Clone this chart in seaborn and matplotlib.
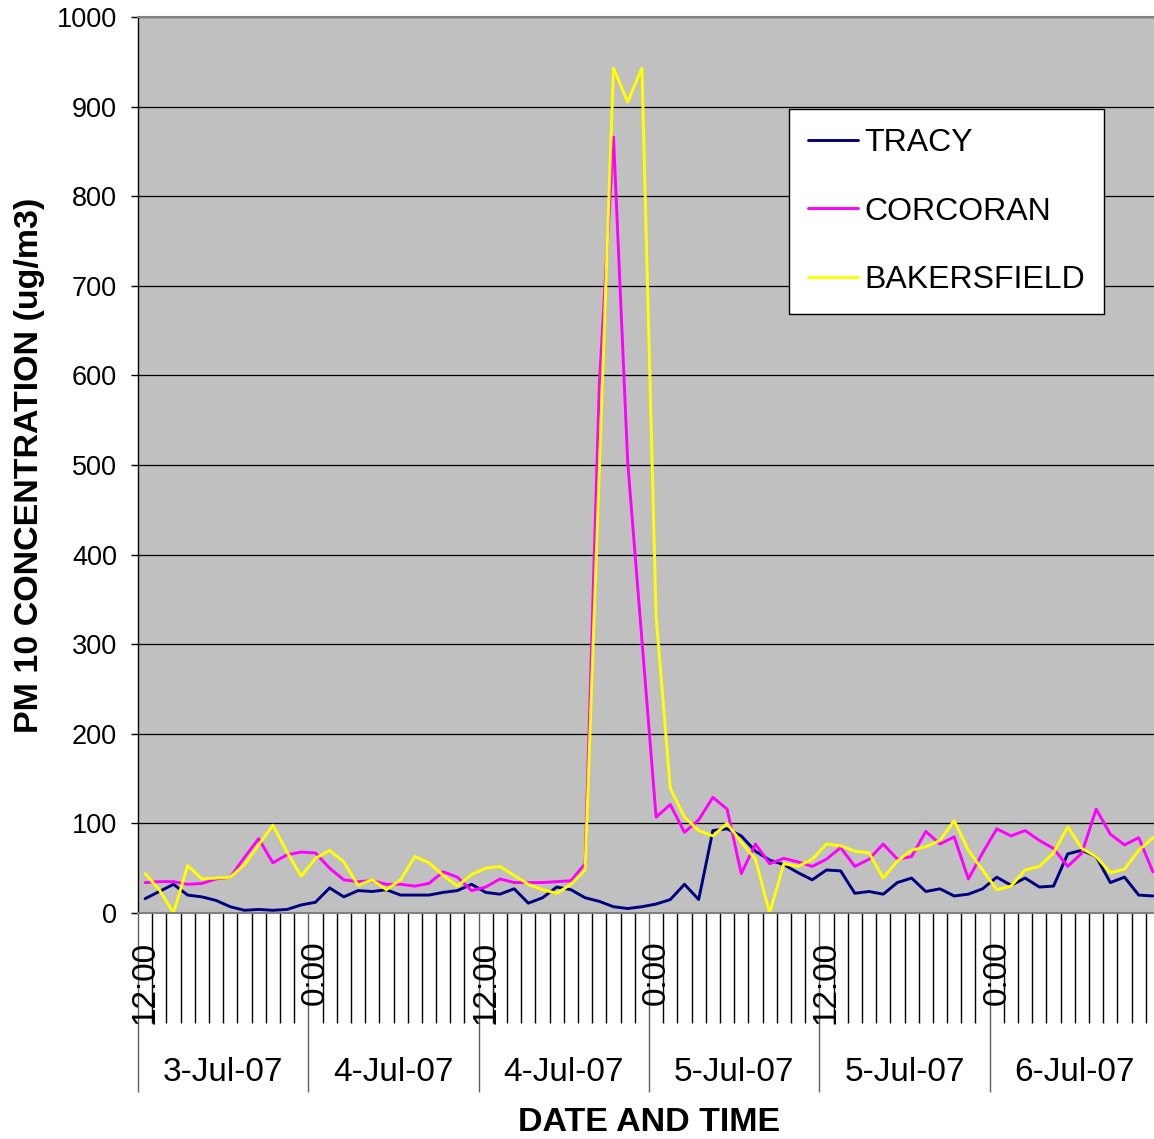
import pandas as pd
import numpy as np
import matplotlib
matplotlib.use('Agg')
import matplotlib.pyplot as plt
import seaborn as sns

# hourly PM10 readings, 3-Jul-07 12:00 onwards
tracy = [16, 24, 32, 20, 18, 14, 7, 3, 4, 3, 4, 9, 12, 28, 18, 25, 24, 26, 20, 20, 20, 23, 25, 32,
         23, 21, 27, 11, 17, 29, 26, 17, 13, 7, 5, 7, 10, 15, 32, 15, 92, 94, 86, 69, 59, 54, 45, 37,
         48, 47, 22, 24, 21, 34, 39, 24, 27, 19, 21, 27, 40, 31, 39, 29, 30, 66, 70, 63, 34, 40, 20, 19]
corcoran = [34, 35, 35, 32, 33, 38, 40, 62, 83, 56, 65, 68, 67, 50, 37, 35, 36, 32, 32, 30, 33, 46, 40, 25,
            29, 38, 34, 34, 34, 35, 36, 55, 590, 866, 503, 305, 107, 121, 90, 104, 129, 116, 44, 77, 55, 61, 57, 52,
            60, 73, 52, 60, 77, 60, 63, 91, 77, 85, 38, 67, 94, 86, 92, 81, 72, 52, 67, 116, 88, 76, 84, 46]
bakersfield = [44, 26, 0, 53, 38, 39, 40, 54, 76, 98, 68, 41, 61, 70, 57, 31, 37, 26, 37, 63, 56, 42, 30, 43,
               50, 52, 42, 32, 26, 22, 32, 48, 495, 943, 905, 943, 331, 139, 107, 92, 86, 100, 79, 60, 0, 55, 52, 60,
               77, 75, 69, 67, 39, 58, 70, 74, 81, 103, 70, 48, 26, 30, 48, 52, 67, 96, 72, 63, 45, 49, 70, 84]

sites = ['TRACY', 'CORCORAN', 'BAKERSFIELD']
colors = ['#000080', '#FF00FF', '#FFFF00']
time_labels = ['12:00', '0:00', '12:00', '0:00', '12:00', '0:00']
date_labels = ['3-Jul-07', '4-Jul-07', '4-Jul-07', '5-Jul-07', '5-Jul-07', '6-Jul-07']

n = len(tracy)
df = pd.DataFrame({'hour': np.arange(n), 'TRACY': tracy, 'CORCORAN': corcoran, 'BAKERSFIELD': bakersfield})

sns.set_style('white', {'axes.facecolor': '#C0C0C0', 'text.color': 'black',
                        'axes.labelcolor': 'black', 'xtick.color': 'black', 'ytick.color': 'black'})
plt.rcParams['font.family'] = ['Liberation Sans', 'DejaVu Sans']

W, H = 1154, 1139
fig = plt.figure(figsize=(W / 100, H / 100), dpi=100)
ax_l, ax_r, ax_t, ax_b = 138, 1160, 17, 913
ax = fig.add_axes([ax_l / W, 1 - ax_b / H, (ax_r - ax_l) / W, (ax_b - ax_t) / H])

for site, c in zip(sites, colors):
    sns.lineplot(data=df, x='hour', y=site, color=c, linewidth=2.1, label=site, ax=ax)

ax.set_xlim(-0.5, n - 0.5)
ax.set_ylim(0, 1000)
ax.set_yticks(np.arange(0, 1001, 100))
ax.yaxis.grid(True, color='black', linewidth=0.9)
ax.set_axisbelow(True)
ax.tick_params(axis='y', labelsize=19.5, length=5, width=1, color='black', labelcolor='black',
               pad=10, left=True)

# category axis: boundaries as ticks, labels drawn separately
ax.set_xticks(np.arange(-0.5, n, 12))
ax.set_xticks(np.arange(-0.5, n, 1), minor=True)
ax.set_xticklabels([])
ax.tick_params(axis='x', which='major', length=129, width=1, color='#606060', bottom=True)
ax.tick_params(axis='x', which='minor', length=79, width=1, color='black', bottom=True)

trans = ax.get_xaxis_transform()
for k, lab in enumerate(time_labels):
    ax.text(k * 12, -0.031, lab, transform=trans, rotation=90, ha='center', va='top',
            fontsize=24, color='black')
for k, lab in enumerate(date_labels):
    ax.text(k * 12 + 5.5, -0.178, lab, transform=trans, ha='center', va='center',
            fontsize=24, color='black')

for s in ['top', 'bottom']:
    ax.spines[s].set_color('#808080')
    ax.spines[s].set_linewidth(1.5)
ax.spines['left'].set_color('black')
ax.spines['left'].set_linewidth(1)
ax.spines['right'].set_visible(False)

ax.set_xlabel('DATE AND TIME', fontsize=24.5, fontweight='bold', color='black')
ax.xaxis.set_label_coords(0.5, -0.217)
ax.set_ylabel('PM 10 CONCENTRATION (ug/m3)', fontsize=24.5, fontweight='bold', color='black')
ax.yaxis.set_label_coords(-0.091, 0.5)

leg = ax.legend(loc='upper left', bbox_to_anchor=(789 / W, 1 - 109 / H), bbox_transform=fig.transFigure,
                fontsize=23, frameon=True, fancybox=False, framealpha=1, facecolor='white',
                edgecolor='black', handlelength=1.55, handletextpad=0.2, labelspacing=1.2,
                borderpad=0.6, borderaxespad=0)
leg.get_frame().set_linewidth(1)
for t in leg.get_texts():
    t.set_color('black')

fig.savefig('out.png', dpi=100, facecolor='white')
